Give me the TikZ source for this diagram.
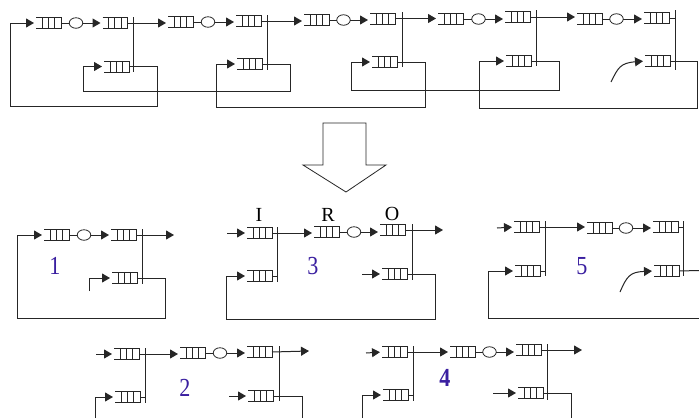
\documentclass[tikz,border=0pt]{standalone}
\usepackage{fontspec}
\setmainfont{Liberation Serif}
\usetikzlibrary{arrows.meta,shapes.geometric}
\definecolor{ink}{HTML}{262626}
\definecolor{numcol}{HTML}{3A1FA0}
\tikzset{
  wire/.style={draw=ink,line width=1pt},
  feed/.style={wire,-{Triangle[length=8pt,width=9pt]},shorten >=2pt},
  qbox/.style={rectangle,minimum width=25pt,minimum height=11pt,inner sep=0pt,outer sep=0pt},
  server/.style={ellipse,draw=ink,line width=.8pt,minimum width=13.5pt,minimum height=10.5pt,inner sep=0pt,outer sep=0pt},
  bar/.style={draw=ink,line width=1pt},
  numlab/.style={text=numcol,font=\fontsize{26}{26}\selectfont,inner sep=0pt,xscale=.85},
  letlab/.style={text=black,font=\fontsize{20}{20}\selectfont,inner sep=0pt},
  bigarrow/.style={draw=ink,line width=.8pt,fill=white}
}
\newcommand{\qn}[3]{%
  \node[qbox] (#1) at (#2,#3) {};
  \draw[wire,line width=.9pt] (#1.north west) -- (#1.north east) -- (#1.south east) -- (#1.south west);
  \draw[draw=ink,line width=.9pt]
    ([xshift=6pt]#1.north west) -- ([xshift=6pt]#1.south west)
    ([xshift=12pt]#1.north west) -- ([xshift=12pt]#1.south west)
    ([xshift=18.5pt]#1.north west) -- ([xshift=18.5pt]#1.south west);
}
\newcommand{\sv}[3]{\node[server] (#1) at (#2,#3) {};}
\newcommand{\barl}[4]{%
  \coordinate (#1t) at (#2,#3);
  \coordinate (#1b) at (#2,#4);
  \draw[bar] (#1t) -- (#1b);
}
% a level feed from the east side of #1 up to the west side of #2
\newcommand{\hf}[2]{\draw[feed] (#1.east) -- (#1.east -| #2.west);}
\begin{document}
\begin{tikzpicture}[x=1pt,y=-1pt]
\useasboundingbox (0,0) rectangle (699,418);
\fill[white] (0,0) rectangle (699,418);
% ---------- top chain ----------
\qn{a1}{48.5}{23}\sv{s1}{76}{23}\qn{a2}{115}{23}
\qn{a3}{180.5}{22}\sv{s2}{208}{22}\qn{a4}{248.5}{21}
\qn{a5}{316.5}{20}\sv{s3}{343.5}{20}\qn{a6}{382.5}{18.5}
\qn{a7}{450.5}{19}\sv{s4}{478.5}{19}\qn{a8}{517.5}{17}
\qn{a9}{589.5}{19}\sv{s5}{616.5}{19}\qn{a10}{656.5}{18}
\qn{l1}{116.5}{66.5}\qn{l2}{249.5}{64}\qn{l3}{384.5}{62}\qn{l4}{518.5}{61}\qn{l5}{657.5}{61}
\barl{b1}{133.5}{17}{72}
\barl{b2}{267}{15}{70}
\barl{b3}{402}{12}{67}
\barl{b4}{536}{10}{66}
\barl{b5}{675}{10}{70}
\foreach \q/\s in {a1/s1,a3/s2,a5/s3,a7/s4,a9/s5} \draw[wire] (\q.east) -- (\s.west);
\hf{s1}{a2}\hf{s2}{a4}\hf{s3}{a6}\hf{s4}{a8}\hf{s5}{a10}
\hf{a2}{a3}\hf{a4}{a5}\hf{a6}{a7}\hf{a8}{a9}
\draw[wire] (a10.east) -- (b5t |- a10.east);
\draw[feed] (l1.east) -| (157,106) -- (10,106) |- (a1.west);
\draw[feed] (l2.east) -| (290,91) -- (83,91) |- (l1.west);
\draw[feed] (l3.east) -| (425,107.5) -- (216,107.5) |- (l2.west);
\draw[feed] (l4.east) -| (559,90) -- (351,90) |- (l3.west);
\draw[feed] (l5.east) -| (697,108.5) -- (479,108.5) |- (l4.west);
\coordinate (c5) at (611,82);
\draw[feed] (c5) .. controls (618,68) and (620,63) .. (l5.west);
% ---------- big arrow ----------
\draw[bigarrow] (323,123) -- (366,123) -- (366,165) -- (386,165) -- (346,192) -- (303,165) -- (323,165) -- cycle;
% ---------- panel 1 ----------
\qn{p1a}{56.5}{235}\sv{p1s}{84}{235}\qn{p1b}{123.5}{235}\qn{p1c}{124.5}{278}
\barl{p1k}{142}{229}{284}
\coordinate (p1o) at (174,235);
\coordinate (p1i) at (89,291);
\draw[wire] (p1a.east) -- (p1s.west);
\hf{p1s}{p1b}
\draw[feed,shorten >=0pt] (p1b.east) -- (p1o);
\draw[feed] (p1i) |- (p1c.west);
\draw[feed] (p1c.east) -| (165,318) -- (17.5,318) |- (p1a.west);
\node[numlab] (n1) at (55,266) {1};
% ---------- panel 3 ----------
\qn{p3a}{259.5}{233}\qn{p3r}{326.5}{232}\sv{p3s}{354}{232}\qn{p3o}{392.5}{230}
\qn{p3c}{259.5}{276}\qn{p3d}{394.5}{274}
\barl{p3k}{277}{227}{282}
\barl{p3m}{412}{224}{280}
\coordinate (p3i) at (227,233);
\coordinate (p3j) at (362,274);
\coordinate (p3e) at (443,230);
\draw[feed] (p3i) -- (p3a.west);
\hf{p3a}{p3r}
\draw[wire] (p3r.east) -- (p3s.west);
\hf{p3s}{p3o}
\draw[feed,shorten >=0pt] (p3o.east) -- (p3e);
\draw[feed] (p3j) -- (p3d.west);
\draw[feed] (p3d.east) -| (435,319) -- (226,319) |- (p3c.west);
\draw[wire] (p3c.east) -- (p3kt |- p3c.east);
\node[letlab] (tI) at (259,215) {I};
\node[letlab] (tR) at (328,215) {R};
\node[letlab] (tO) at (392,214) {O};
\node[numlab] (n3) at (313,266) {3};
% ---------- panel 5 ----------
\qn{p5a}{526.5}{227}\qn{p5r}{599.5}{228}\sv{p5s}{626}{228}\qn{p5o}{665.5}{227}
\qn{p5c}{527.5}{271}\qn{p5d}{666.5}{271}
\barl{p5k}{545}{221}{276}
\barl{p5m}{683}{221}{276}
\coordinate (p5i) at (497,228);
\coordinate (p5q) at (620,292);
\coordinate (p5e) at (699,270.5);
\draw[feed] (p5i) -- (p5a.west);
\hf{p5a}{p5r}
\draw[wire] (p5r.east) -- (p5s.west);
\hf{p5s}{p5o}
\draw[wire] (p5o.east) -- (p5mt |- p5o.east);
\draw[wire] (p5c.east) -- (p5kt |- p5c.east);
\draw[wire] (p5d.east) -- (p5e);
\coordinate (p5w) at (699,318);
\draw[feed] (p5w) -- (488,318) |- (p5c.west);
\draw[feed] (p5q) .. controls (627,276) and (630,272) .. (p5d.west);
\node[numlab] (n5) at (582,266) {5};
% ---------- panel 2 ----------
\qn{p2a}{126.5}{354}\qn{p2r}{192.5}{353}\sv{p2s}{220}{353}\qn{p2o}{259.5}{352}
\qn{p2c}{127.5}{397}\qn{p2d}{260.5}{396}
\barl{p2k}{145}{348}{403}
\barl{p2m}{279}{346}{401}
\coordinate (p2i) at (96,354);
\coordinate (p2j) at (229,396);
\coordinate (p2e) at (309,351);
\draw[feed] (p2i) -- (p2a.west);
\hf{p2a}{p2r}
\draw[wire] (p2r.east) -- (p2s.west);
\hf{p2s}{p2o}
\draw[feed,shorten >=0pt] (p2o.east) -- (p2e);
\draw[wire] (p2c.east) -- (p2kt |- p2c.east);
\draw[feed] (p2j) -- (p2d.west);
\coordinate (p2w) at (95,418);
\coordinate (p2x) at (302,418);
\draw[feed] (p2w) |- (p2c.west);
\draw[wire] (p2d.east) -| (p2x);
\node[numlab] (n2) at (185,388) {2};
% ---------- panel 4 ----------
\qn{p4a}{394.5}{352}\qn{p4r}{462.5}{352}\sv{p4s}{489.5}{352}\qn{p4o}{528.5}{350}
\qn{p4c}{395.5}{395}\qn{p4d}{530.5}{393}
\barl{p4k}{413}{346}{401}
\barl{p4m}{547}{344}{400}
\coordinate (p4i) at (366,353);
\coordinate (p4j) at (493,393);
\coordinate (p4e) at (582,350);
\draw[feed] (p4i) -- (p4a.west);
\hf{p4a}{p4r}
\draw[wire] (p4r.east) -- (p4s.west);
\hf{p4s}{p4o}
\draw[feed,shorten >=0pt] (p4o.east) -- (p4e);
\draw[wire] (p4c.east) -- (p4kt |- p4c.east);
\draw[feed] (p4j) -- (p4d.west);
\coordinate (p4w) at (362,418);
\coordinate (p4x) at (571,418);
\draw[feed] (p4w) |- (p4c.west);
\draw[wire] (p4d.east) -| (p4x);
\node[numlab,font=\fontsize{26}{26}\selectfont\bfseries] (n4) at (445,378) {4};
\end{tikzpicture}
\end{document}
